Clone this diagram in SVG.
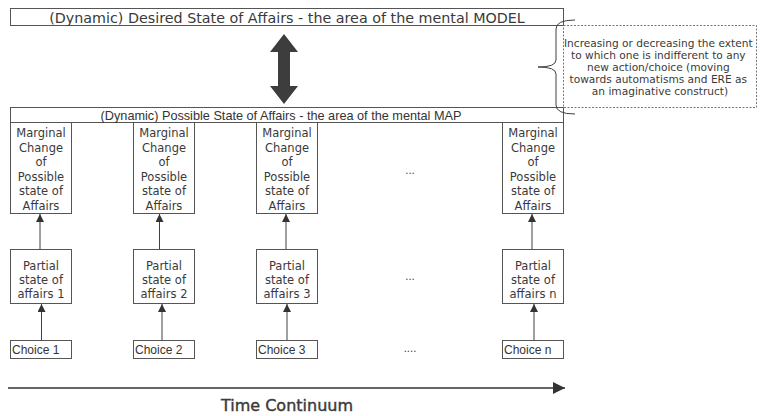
<svg xmlns="http://www.w3.org/2000/svg" width="760" height="416" viewBox="0 0 760 416">
<defs>
<style>
.box{fill:#fff;stroke:#555;stroke-width:1}
.t{font-family:"DejaVu Sans","Noto Sans",sans-serif;fill:#3a3a3a;text-anchor:middle}
.m{font-size:11.5px}
.c{font-family:"Liberation Sans",Arial,sans-serif;fill:#333;font-size:12px}
.ln{stroke:#404040;stroke-width:1;fill:none}
</style>
<marker id="ah" viewBox="0 0 10 10" refX="10" refY="5" markerWidth="8" markerHeight="8" markerUnits="userSpaceOnUse" orient="auto"><path d="M0,0 L10,5 L0,10 z" fill="#333"/></marker>
<marker id="ah2" viewBox="0 0 10 10" refX="10" refY="5" markerWidth="12" markerHeight="12" markerUnits="userSpaceOnUse" orient="auto"><path d="M0,0 L10,5 L0,10 z" fill="#333"/></marker>
</defs>
<rect width="760" height="416" fill="#fff"/>

<g id="model">
<rect class="box" x="10.5" y="8.5" width="553" height="17"/>
<text class="t" x="287" y="22.5" style="font-size:14.3px">(Dynamic) Desired State of Affairs - the area of the mental MODEL</text>
</g>

<g id="map">
<rect class="box" x="10.5" y="107.5" width="553" height="15"/>
<text class="c" x="281" y="120" text-anchor="middle" style="font-size:12.7px">(Dynamic) Possible State of Affairs - the area of the mental MAP</text>
</g>

<g id="note">
<rect x="563.5" y="25.5" width="193" height="82" fill="#fff" stroke="#555" stroke-width="0.8" stroke-dasharray="2,1.5"/>
<text class="t" style="font-size:10.6px" x="660">
<tspan x="660" y="47">Increasing or decreasing the extent</tspan>
<tspan x="660" y="59">to which one is indifferent to any</tspan>
<tspan x="660" y="71">new action/choice (moving</tspan>
<tspan x="660" y="83">towards automatisms and ERE as</tspan>
<tspan x="660" y="95">an imaginative construct)</tspan>
</text>
</g>

<g id="col1">
<rect class="box" x="10.5" y="122.5" width="61" height="91"/>
<text class="t m"><tspan x="41" y="137">Marginal</tspan><tspan x="41" y="152">Change</tspan><tspan x="41" y="166">of</tspan><tspan x="41" y="181">Possible</tspan><tspan x="41" y="195">state of</tspan><tspan x="41" y="210">Affairs</tspan></text>
<rect class="box" x="10.5" y="249.5" width="61" height="54"/>
<text class="t m"><tspan x="41" y="270">Partial</tspan><tspan x="41" y="284">state of</tspan><tspan x="41" y="298">affairs 1</tspan></text>
<rect class="box" x="10.5" y="340.5" width="61" height="18"/>
<text class="c" x="12" y="354">Choice 1</text>
</g>

<g id="col2">
<rect class="box" x="133.5" y="122.5" width="61" height="91"/>
<text class="t m"><tspan x="164" y="137">Marginal</tspan><tspan x="164" y="152">Change</tspan><tspan x="164" y="166">of</tspan><tspan x="164" y="181">Possible</tspan><tspan x="164" y="195">state of</tspan><tspan x="164" y="210">Affairs</tspan></text>
<rect class="box" x="133.5" y="249.5" width="61" height="54"/>
<text class="t m"><tspan x="164" y="270">Partial</tspan><tspan x="164" y="284">state of</tspan><tspan x="164" y="298">affairs 2</tspan></text>
<rect class="box" x="133.5" y="340.5" width="61" height="18"/>
<text class="c" x="135" y="354">Choice 2</text>
</g>

<g id="col3">
<rect class="box" x="256.5" y="122.5" width="61" height="91"/>
<text class="t m"><tspan x="287" y="137">Marginal</tspan><tspan x="287" y="152">Change</tspan><tspan x="287" y="166">of</tspan><tspan x="287" y="181">Possible</tspan><tspan x="287" y="195">state of</tspan><tspan x="287" y="210">Affairs</tspan></text>
<rect class="box" x="256.5" y="249.5" width="61" height="54"/>
<text class="t m"><tspan x="287" y="270">Partial</tspan><tspan x="287" y="284">state of</tspan><tspan x="287" y="298">affairs 3</tspan></text>
<rect class="box" x="256.5" y="340.5" width="61" height="18"/>
<text class="c" x="258" y="354">Choice 3</text>
</g>

<g id="colN">
<rect class="box" x="502.5" y="122.5" width="61" height="91"/>
<text class="t m"><tspan x="533" y="137">Marginal</tspan><tspan x="533" y="152">Change</tspan><tspan x="533" y="166">of</tspan><tspan x="533" y="181">Possible</tspan><tspan x="533" y="195">state of</tspan><tspan x="533" y="210">Affairs</tspan></text>
<rect class="box" x="502.5" y="249.5" width="61" height="54"/>
<text class="t m"><tspan x="533" y="270">Partial</tspan><tspan x="533" y="284">state of</tspan><tspan x="533" y="298">affairs n</tspan></text>
<rect class="box" x="502.5" y="340.5" width="61" height="18"/>
<text class="c" x="504" y="354">Choice n</text>
</g>

<g id="ellipses">
<text class="t" style="font-size:10px" x="410" y="174">...</text>
<text class="t" style="font-size:10px" x="410" y="280">...</text>
<text class="t" style="font-size:10px" x="410" y="352">....</text>
</g>

<g id="time">
<text class="t" x="287" y="411" style="font-size:16px;fill:#3a3a3a;stroke:#3a3a3a;stroke-width:0.4">Time Continuum</text>
</g>

<g id="connectors">
<path d="M284,34 L298,52 L290,52 L290,86 L298,86 L284,104 L270,86 L278,86 L278,52 L270,52 Z" fill="#3d3d3d"/>
<path class="ln" d="M575,20 Q556,20 556,29 L556,60 Q556,67 538,67 Q556,67 556,74 L556,105 Q556,114 575,114"/>
<line class="ln" x1="40" y1="249" x2="40" y2="214" marker-end="url(#ah)"/>
<line class="ln" x1="41.5" y1="340" x2="41.5" y2="304" marker-end="url(#ah)"/>
<line class="ln" x1="159.5" y1="249" x2="159.5" y2="214" marker-end="url(#ah)"/>
<line class="ln" x1="162" y1="340" x2="162" y2="304" marker-end="url(#ah)"/>
<line class="ln" x1="286" y1="249" x2="286" y2="214" marker-end="url(#ah)"/>
<line class="ln" x1="287" y1="340" x2="287" y2="304" marker-end="url(#ah)"/>
<line class="ln" x1="532" y1="249" x2="532" y2="214" marker-end="url(#ah)"/>
<line class="ln" x1="534" y1="340" x2="534" y2="304" marker-end="url(#ah)"/>
<line x1="8" y1="388" x2="565" y2="388" stroke="#333" stroke-width="1.3" marker-end="url(#ah2)"/>
</g>
</svg>
